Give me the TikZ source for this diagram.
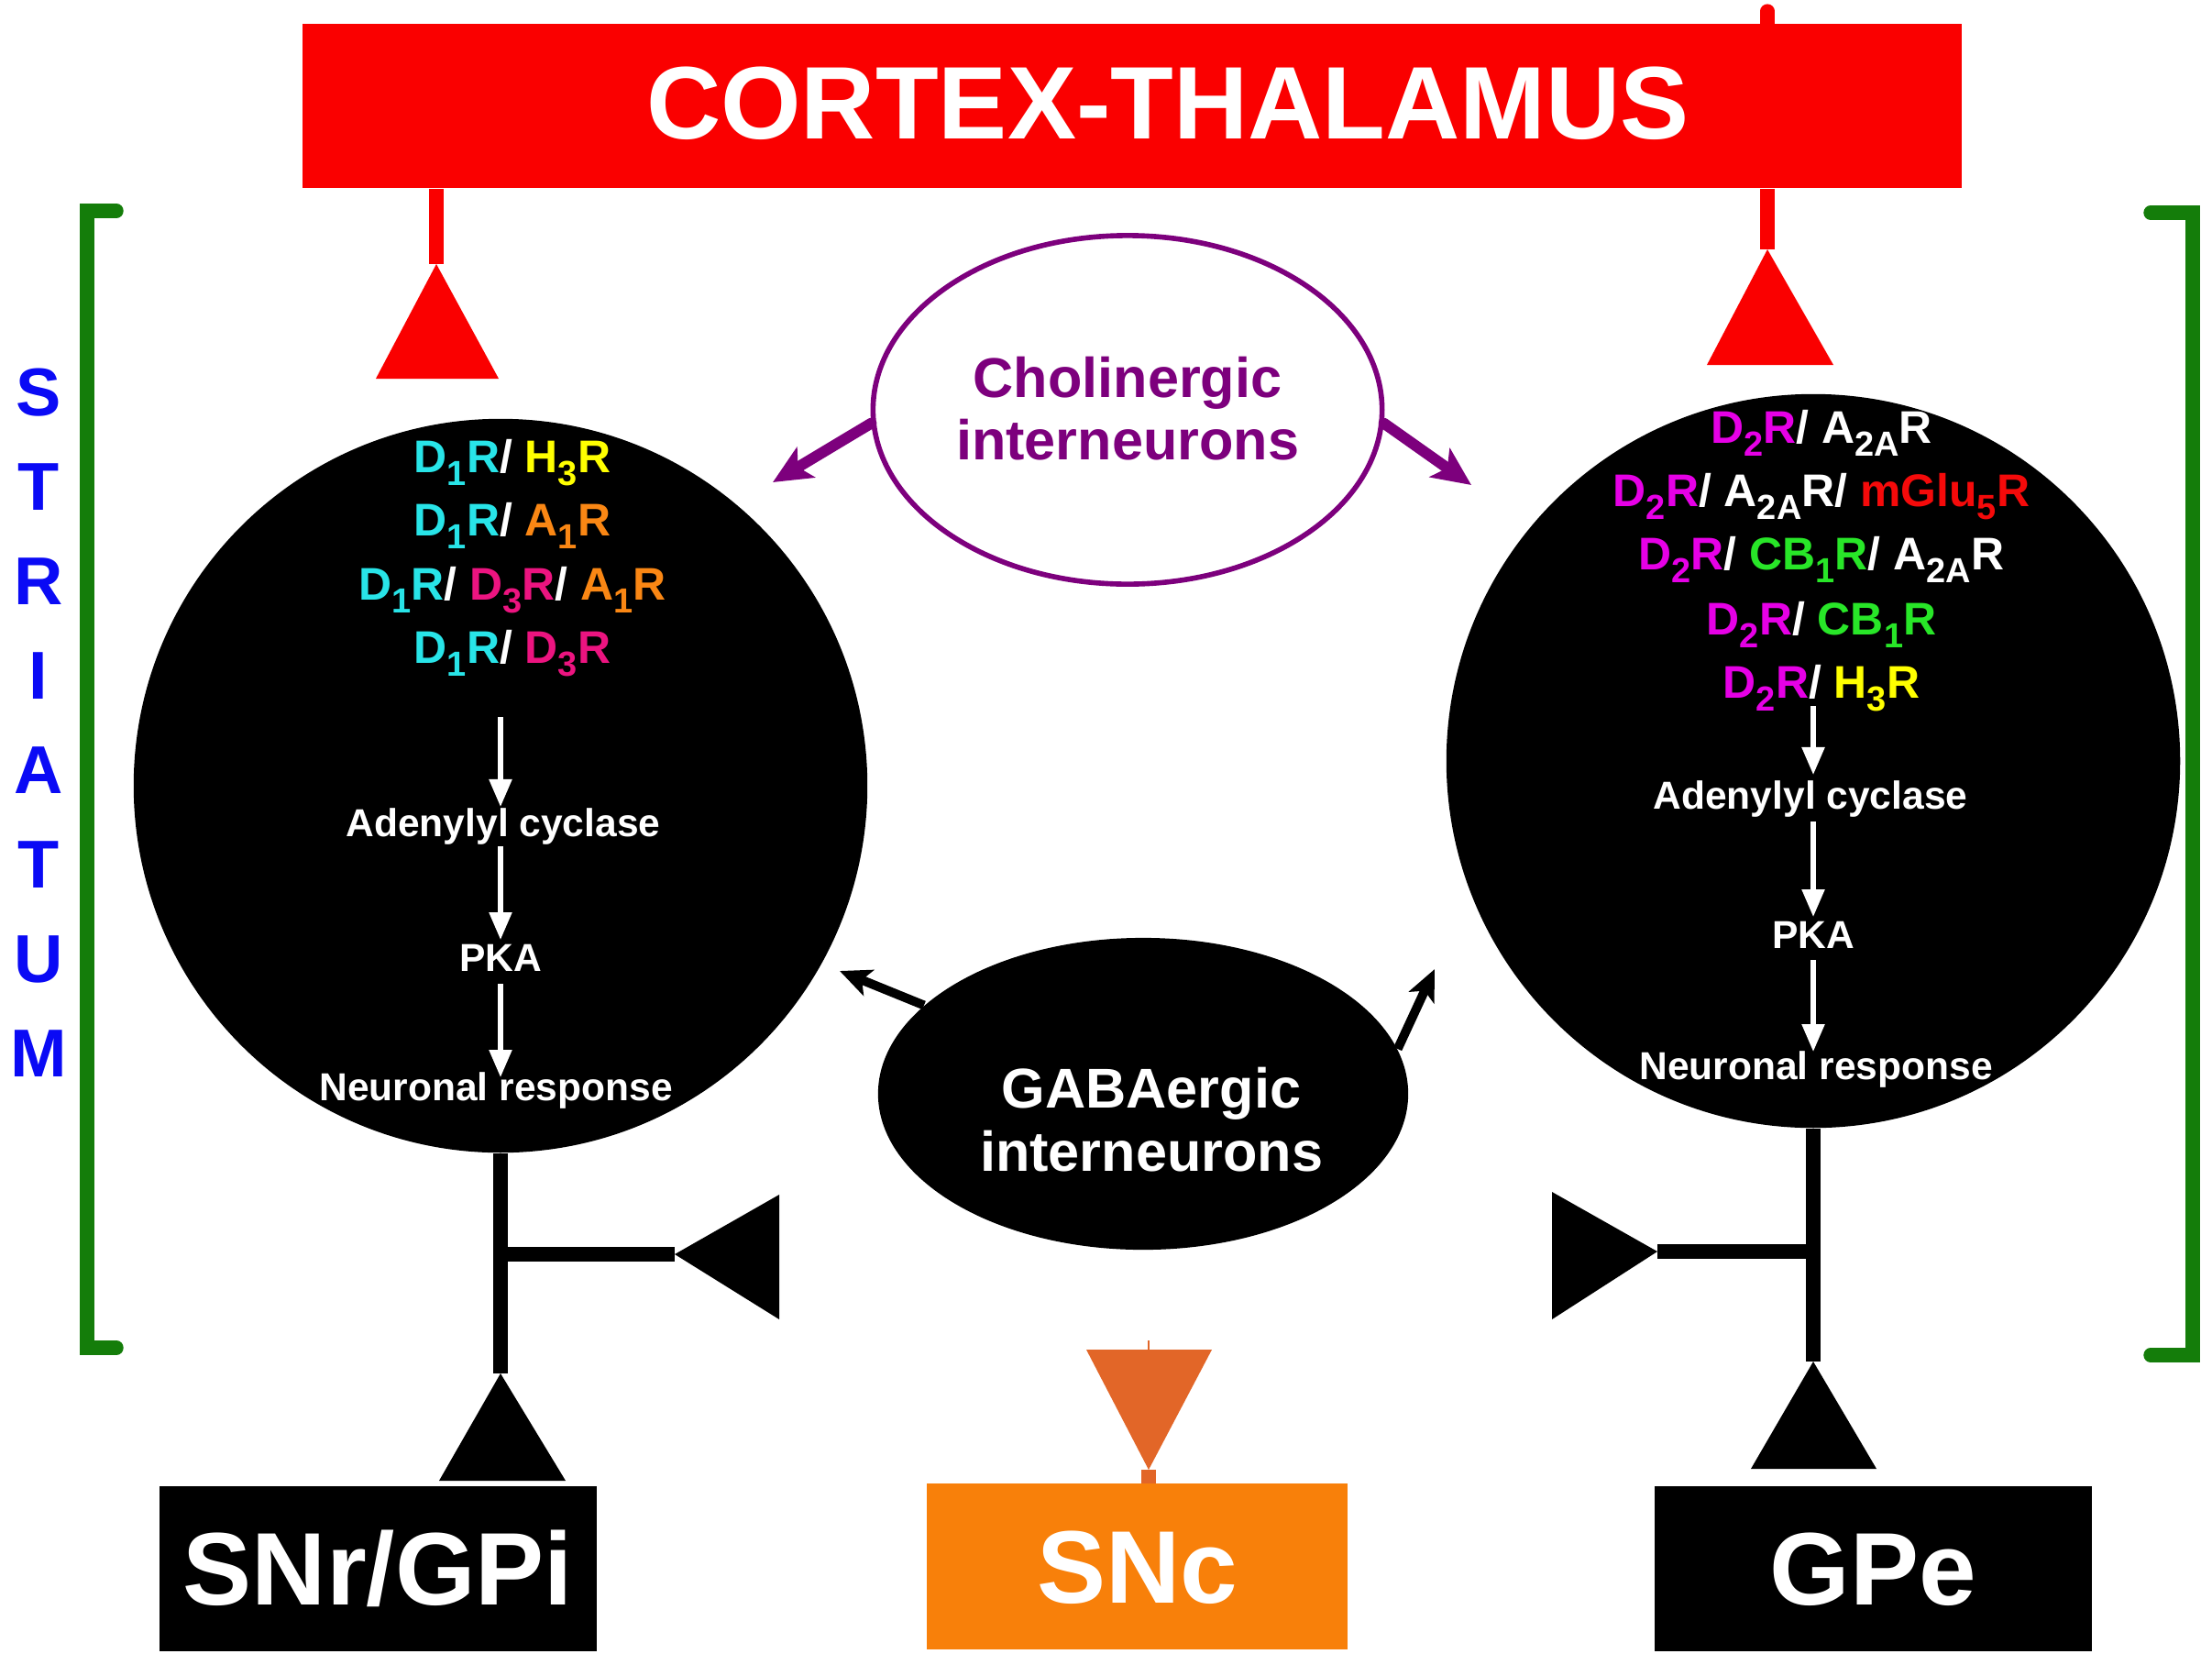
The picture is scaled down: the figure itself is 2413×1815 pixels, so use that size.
\documentclass[tikz,border=0pt]{standalone}
\usepackage{fontspec}
\setmainfont{Liberation Sans}
\usetikzlibrary{shapes.geometric,arrows.meta}
\definecolor{cyanR}{RGB}{40,228,232}
\definecolor{yelR}{RGB}{255,255,0}
\definecolor{oraR}{RGB}{250,135,20}
\definecolor{pinkR}{RGB}{236,20,128}
\definecolor{magR}{RGB}{230,0,230}
\definecolor{grnR}{RGB}{40,230,40}
\definecolor{redR}{RGB}{245,10,10}
\definecolor{purp}{RGB}{125,0,125}
\definecolor{brk}{RGB}{20,125,10}
\definecolor{sncbox}{RGB}{248,128,10}
\definecolor{snctri}{RGB}{226,102,40}
\definecolor{ctxred}{RGB}{250,0,0}
\definecolor{strblue}{RGB}{10,10,245}
\newcommand\rsb[1]{\raisebox{-0.3em}{\fontsize{10.8pt}{12pt}\selectfont #1}}
\begin{document}
\begin{tikzpicture}[x=0.01cm,y=-0.01cm,
  rec/.style={text=white,font=\fontsize{14.2pt}{17pt}\selectfont\bfseries,inner sep=0,anchor=base},
  pathtxt/.style={text=white,font=\fontsize{12.1pt}{14pt}\selectfont\bfseries,inner sep=0,anchor=base},
  bigtxt/.style={text=white,font=\fontsize{32pt}{36pt}\selectfont\bfseries,inner sep=0,anchor=base},
  midtxt/.style={font=\fontsize{17.4pt}{20pt}\selectfont\bfseries,inner sep=0,anchor=base},
  stri/.style={text=strblue,font=\fontsize{21pt}{24pt}\selectfont\bfseries,inner sep=0,anchor=base},
  warr/.style={white,line width=1.5pt,-{Triangle[length=0.3cm,width=0.24cm]}},
  garr/.style={black,line width=2.8pt,-{Stealth[length=0.34cm,width=0.3cm,inset=0.08cm]}},
  parr/.style={purp,line width=3.4pt,line cap=round,-{Stealth[length=0.42cm,width=0.38cm,inset=0.1cm]}},
  redline/.style={ctxred,line width=4.3pt},
  blkline/.style={black,line width=4.4pt},
  brack/.style={brk,line width=4.4pt,line cap=round},
  cell/.style={circle,fill=black,minimum size=8cm,inner sep=0},
  target/.style={minimum width=4.77cm,minimum height=1.8cm,inner sep=0}
]
\useasboundingbox (0,0) rectangle (2413,1815);
\fill[white] (0,0) rectangle (2413,1815);

% Cortex-thalamus
\node[fill=ctxred,minimum width=18.08cm,minimum height=1.79cm,inner sep=0] (ctx) at (1235,115.5) {};
\node[bigtxt] (ctxt) at (1274,151) {CORTEX-THALAMUS};
\coordinate (tick) at (1928,12);
\draw[redline,line cap=round] (tick) -- (ctx.north -| tick);

% striatum brackets
\draw[brack] (127,230) -- (95,230) -- (95,1470) -- (127,1470);
\draw[brack] (2346,232) -- (2392,232) -- (2392,1478) -- (2346,1478);
\foreach \l [count=\i from 0] in {S,T,R,I,A,T,U,M}
  \node[stri] (st\i) at (42,453+103*\i) {\l};

% medium spiny neurons
\node[cell] (lc) at (546,857) {};
\node[cell] (rc) at (1978,830) {};

% cortical inputs
\coordinate (lta) at (476,288);
\coordinate (rta) at (1928,272);
\draw[redline] (ctx.south -| lta) -- (lta);
\draw[redline] (ctx.south -| rta) -- (rta);
\fill[ctxred] (lta) -- (410,413) -- (544,413) -- cycle;
\fill[ctxred] (rta) -- (1862,398) -- (2000,398) -- cycle;

% cholinergic interneurons
\node[ellipse,draw=purp,line width=1.6pt,minimum width=5.55cm,minimum height=3.8cm,inner sep=0] (chol) at (1230,447) {};
\node[midtxt,text=purp] (cholt1) at (1230,433) {Cholinergic};
\node[midtxt,text=purp] (cholt2) at (1230,501) {interneurons};
\coordinate (pl) at (843,526);
\coordinate (pr) at (1605,529);
\draw[parr] (chol.183) -- (pl);
\draw[parr] (chol.-3) -- (pr);

% GABAergic interneurons
\node[ellipse,fill=black,minimum width=5.78cm,minimum height=3.4cm,inner sep=0] (gaba) at (1247,1193) {};
\node[midtxt,text=white] (gabat1) at (1256,1208) {GABAergic};
\node[midtxt,text=white] (gabat2) at (1256,1277) {interneurons};
\coordinate (gl) at (916,1059);
\coordinate (gr) at (1565,1057);
\draw[garr] (gaba.158) -- (gl);
\draw[garr] (gaba.10) -- (gr);

% left neuron receptors
\node[rec] (l1) at (559,515) {\textcolor{cyanR}{D\rsb{1}R}/ \textcolor{yelR}{H\rsb{3}R}};
\node[rec] (l2) at (559,584) {\textcolor{cyanR}{D\rsb{1}R}/ \textcolor{oraR}{A\rsb{1}R}};
\node[rec] (l3) at (559,654) {\textcolor{cyanR}{D\rsb{1}R}/ \textcolor{pinkR}{D\rsb{3}R}/ \textcolor{oraR}{A\rsb{1}R}};
\node[rec] (l4) at (559,723) {\textcolor{cyanR}{D\rsb{1}R}/ \textcolor{pinkR}{D\rsb{3}R}};
\node[pathtxt] (lac) at (549,912) {Adenylyl cyclase};
\node[pathtxt] (lpka) at (546,1059) {PKA};
\node[pathtxt] (lnr) at (541,1200) {Neuronal response};
\coordinate (la1s) at (546,782); \coordinate (la1e) at (546,880);
\coordinate (la2s) at (546,923); \coordinate (la2e) at (546,1025);
\coordinate (la3s) at (546,1073); \coordinate (la3e) at (546,1175);
\draw[warr] (la1s) -- (la1e);
\draw[warr] (la2s) -- (la2e);
\draw[warr] (la3s) -- (la3e);

% right neuron receptors
\node[rec] (r1) at (1987,483) {\textcolor{magR}{D\rsb{2}R}/ A\rsb{2A}R};
\node[rec] (r2) at (1987,552) {\textcolor{magR}{D\rsb{2}R}/ A\rsb{2A}R/ \textcolor{redR}{mGlu\rsb{5}R}};
\node[rec] (r3) at (1987,621) {\textcolor{magR}{D\rsb{2}R}/ \textcolor{grnR}{CB\rsb{1}R}/ A\rsb{2A}R};
\node[rec] (r4) at (1987,692) {\textcolor{magR}{D\rsb{2}R}/ \textcolor{grnR}{CB\rsb{1}R}};
\node[rec] (r5) at (1987,761) {\textcolor{magR}{D\rsb{2}R}/ \textcolor{yelR}{H\rsb{3}R}};
\node[pathtxt] (rac) at (1975,882) {Adenylyl cyclase};
\node[pathtxt] (rpka) at (1978,1034) {PKA};
\node[pathtxt] (rnr) at (1981,1177) {Neuronal response};
\coordinate (ra1s) at (1978,770); \coordinate (ra1e) at (1978,845);
\coordinate (ra2s) at (1978,896); \coordinate (ra2e) at (1978,1000);
\coordinate (ra3s) at (1978,1047); \coordinate (ra3e) at (1978,1147);
\draw[warr] (ra1s) -- (ra1e);
\draw[warr] (ra2s) -- (ra2e);
\draw[warr] (ra3s) -- (ra3e);

% output axons
\coordinate (lba) at (546,1498);
\coordinate (rba) at (1978,1485);
\draw[blkline] (lc.south) -- (lba);
\draw[blkline] (rc.south) -- (rba);
\fill (lba) -- (479,1615) -- (617,1615) -- cycle;
\fill (rba) -- (1910,1602) -- (2047,1602) -- cycle;

% collateral synapses
\coordinate (lsa) at (736,1368);
\coordinate (rsa) at (1808,1365);
\draw[blkline] (lc.south |- lsa) -- (lsa);
\draw[blkline] (rc.south |- rsa) -- (rsa);
\fill (lsa) -- (850,1303) -- (850,1439) -- cycle;
\fill (rsa) -- (1693,1300) -- (1693,1439) -- cycle;

% targets
\node[target,fill=black] (snr) at (412.5,1711) {};
\node[bigtxt] (snrt) at (412.5,1750) {SNr/GPi};
\node[target,fill=sncbox,minimum width=4.59cm] (snc) at (1240.5,1708.5) {};
\node[bigtxt] (snct) at (1240.5,1748) {SNc};
\node[target,fill=black] (gpe) at (2043.5,1711) {};
\node[bigtxt] (gpet) at (2043.5,1750) {GPe};

% nigrostriatal input
\coordinate (sncapex) at (1253,1603);
\coordinate (snctick) at (1253,1462);
\draw[snctri,line width=4.3pt] (snc.north -| sncapex) -- (sncapex);
\fill[snctri] (sncapex) -- (1185,1472) -- (1322,1472) -- cycle;
\draw[snctri,line width=0.8pt] (snctick) -- (1253,1472);
\end{tikzpicture}
\end{document}
